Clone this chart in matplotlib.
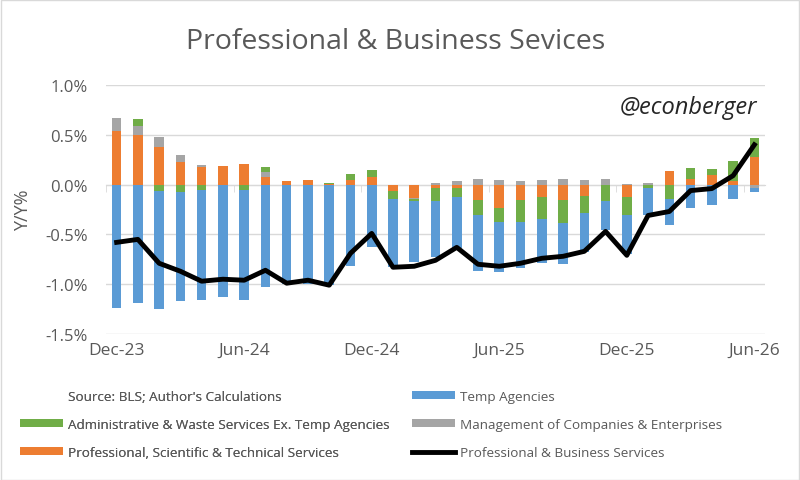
import matplotlib
matplotlib.use("Agg")
import matplotlib.pyplot as plt
from matplotlib.patches import Patch, Rectangle
from matplotlib.lines import Line2D
import numpy as np

plt.rcParams['font.family'] = ['Open Sans', 'DejaVu Sans']

months = ["Dec-23", "Jan-24", "Feb-24", "Mar-24", "Apr-24", "May-24", "Jun-24",
          "Jul-24", "Aug-24", "Sep-24", "Oct-24", "Nov-24", "Dec-24",
          "Jan-25", "Feb-25", "Mar-25", "Apr-25", "May-25", "Jun-25",
          "Jul-25", "Aug-25", "Sep-25", "Oct-25", "Nov-25", "Dec-25",
          "Jan-26", "Feb-26", "Mar-26", "Apr-26", "May-26", "Jun-26"]

# y/y contributions, percentage points
prof_sci = [0.54, 0.50, 0.38, 0.23, 0.18, 0.19, 0.21, 0.08, 0.04, 0.05, 0.01,
            0.05, 0.08, -0.06, -0.13, -0.03, -0.03, -0.15, -0.23, -0.15, -0.12,
            -0.15, -0.11, 0.00, -0.12, 0.00, 0.14, 0.06, 0.10, 0.04, 0.28]
mgmt = [0.13, 0.09, 0.10, 0.07, 0.02, 0.00, 0.00, 0.05, 0.00, 0.00, 0.00,
        0.00, 0.00, 0.00, -0.01, 0.02, 0.04, 0.06, 0.05, 0.035, 0.05,
        0.06, 0.05, 0.06, 0.01, 0.02, 0.00, 0.00, 0.00, 0.00, -0.03]
admin = [0.00, 0.07, -0.06, -0.07, -0.05, 0.00, -0.05, 0.05, 0.00, 0.00, 0.01,
         0.06, 0.07, -0.08, -0.02, -0.13, -0.09, -0.16, -0.15, -0.23, -0.23,
         -0.24, -0.18, -0.16, -0.19, -0.03, -0.14, 0.11, 0.06, 0.20, 0.19]
temp = [-1.24, -1.19, -1.19, -1.10, -1.11, -1.13, -1.11, -1.03, -1.00, -1.00, -1.01,
        -0.82, -0.63, -0.69, -0.62, -0.57, -0.52, -0.56, -0.50, -0.46, -0.44,
        -0.41, -0.39, -0.30, -0.39, -0.28, -0.27, -0.23, -0.20, -0.14, -0.04]
total = [-0.58, -0.55, -0.79, -0.87, -0.97, -0.95, -0.96, -0.86, -0.99, -0.96, -1.01,
         -0.69, -0.49, -0.83, -0.82, -0.76, -0.63, -0.80, -0.82, -0.79, -0.74,
         -0.72, -0.67, -0.47, -0.71, -0.31, -0.27, -0.06, -0.04, 0.09, 0.40]

# stacking order as in the sheet: first series sits nearest zero
series = [("Professional, Scientific & Technical Services", prof_sci, "#ED7D31"),
          ("Management of Companies & Enterprises", mgmt, "#A5A5A5"),
          ("Administrative & Waste Services Ex. Temp Agencies", admin, "#70AD47"),
          ("Temp Agencies", temp, "#5B9BD5")]

fig = plt.figure(figsize=(8, 4.81), dpi=100)
ax = fig.add_axes([106 / 800, 1 - 335 / 481, 659 / 800, 249 / 481])

x = np.arange(len(months))
pos_base = np.zeros(len(x))
neg_base = np.zeros(len(x))
for name, vals, col in series:
    v = np.array(vals)
    p = np.where(v > 0, v, 0)
    n = np.where(v < 0, v, 0)
    ax.bar(x, p, 0.45, bottom=pos_base, color=col, zorder=3)
    ax.bar(x, n, 0.45, bottom=neg_base, color=col, zorder=3)
    pos_base += p
    neg_base += n

ax.plot(x, total, color="black", lw=3.5, zorder=4)

ax.set_xlim(-0.5, len(x) - 0.5)
ax.set_ylim(-1.5, 1.0)
ax.set_yticks(np.arange(-1.5, 1.01, 0.5))
ax.set_yticklabels([f"{v:.1f}%" for v in np.arange(-1.5, 1.01, 0.5)])
ax.grid(axis="y", color="#d9d9d9", lw=1)
ax.set_axisbelow(True)

for s in ["left", "right", "top"]:
    ax.spines[s].set_visible(False)
ax.spines["bottom"].set_position(("data", 0))
ax.spines["bottom"].set_color("#d9d9d9")
ax.spines["bottom"].set_zorder(2)

lab_idx = list(range(0, len(x), 6))
ax.set_xticks(lab_idx)
ax.set_xticklabels([months[i] for i in lab_idx])
ax.set_xticks(np.arange(-0.5, len(x), 6), minor=True)
ax.tick_params(axis="x", which="major", length=0, pad=113, labelsize=12.5,
               labelcolor="#595959")
ax.tick_params(axis="x", which="minor", length=5, color="#d9d9d9", direction="out")
ax.tick_params(axis="y", length=0, labelsize=12, labelcolor="#595959", pad=13)

ax.set_ylabel("Y/Y%", fontsize=13, color="#595959")
ax.yaxis.set_label_coords(-0.112, 0.5)

fig.text(0.495, 1 - 42 / 481, "Professional & Business Sevices", ha="center",
         va="center", fontsize=20.5, color="#595959")
fig.text(757 / 800, 1 - 108 / 481, "@econberger", ha="right", va="center",
         fontsize=17, style="italic", color="#262626")

h = {name: Patch(facecolor=col) for name, _, col in series}
blank = Patch(facecolor="none", edgecolor="none")
line_h = Line2D([], [], color="black", lw=3.5)
kw = dict(frameon=False, fontsize=9.7, handlelength=3.2, handleheight=0.55,
          handletextpad=0.4, labelspacing=1.12, borderaxespad=0, borderpad=0,
          labelcolor="#595959")
leg1 = fig.legend([blank, h[series[2][0]], h[series[0][0]]],
                  ["Source: BLS; Author's Calculations", series[2][0], series[0][0]],
                  loc="upper left", bbox_to_anchor=(20 / 800, 1 - 391 / 481), **kw)
fig.add_artist(leg1)
fig.legend([h["Temp Agencies"], h[series[1][0]], line_h],
           ["Temp Agencies", series[1][0], "Professional & Business Services"],
           loc="upper left", bbox_to_anchor=(412 / 800, 1 - 391 / 481), **kw)

fig.add_artist(Rectangle((0.001, 0.001), 0.998, 0.997, transform=fig.transFigure,
                         fill=False, edgecolor="#d9d9d9", lw=1))

fig.savefig("out.png", dpi=100)
